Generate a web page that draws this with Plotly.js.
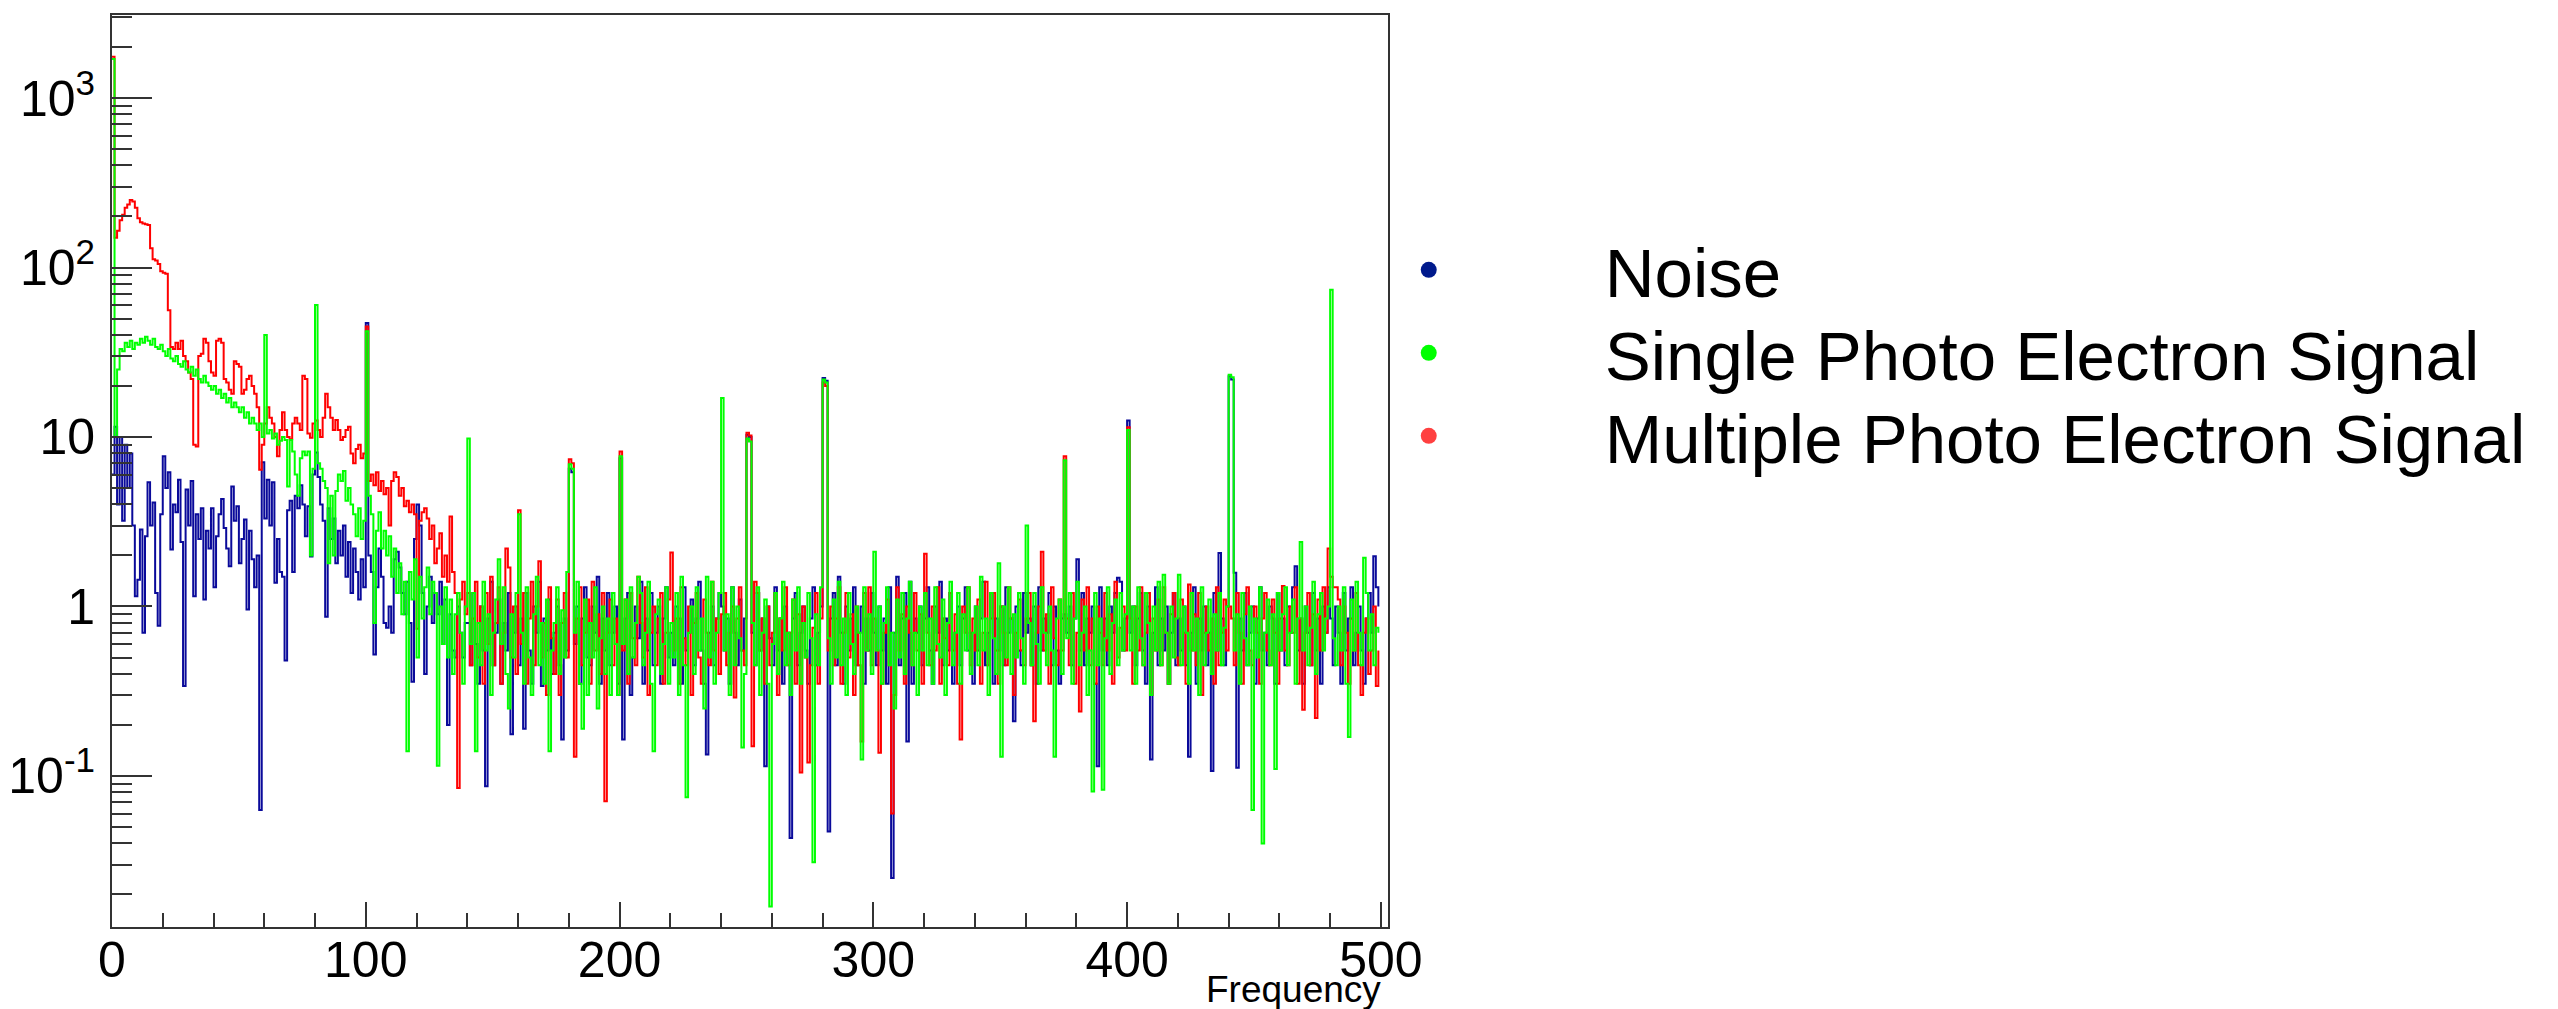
<!DOCTYPE html>
<html><head><meta charset="utf-8">
<script src="https://cdn.plot.ly/plotly-3.0.1.min.js"></script>
<style>html,body{margin:0;padding:0;background:#fff;}#chart{width:2558px;height:1009px;}</style>
</head><body><div id="chart"></div>
<script>
// Series names (legend)
const seriesNames = ['Noise', 'Single Photo Electron Signal', 'Multiple Photo Electron Signal'];
// Histogram binning along Frequency axis (1 unit per bin, starting at 0)
const binStart = 0;
const binWidth = 1;
// Axis tick labels
const xTickVals = [0, 100, 200, 300, 400, 500];
const xTickLabels = ['0', '100', '200', '300', '400', '500'];
const yTickVals = [0.1, 1, 10, 100, 1000];
const yTickLabels = ['10<sup>-1</sup>', '1', '10', '10<sup>2</sup>', '10<sup>3</sup>'];

// Noise (blue), bins 0..499
const noise = [
 6, 11.5, 4, 10, 3.2, 9, 5, 8, 3, 1.15, 1.44, 2.85, 0.7, 2.6, 5.4, 3.0, 4.1, 1.2, 0.77, 3.5,
 7.7, 5, 6.2, 2.17, 4, 3.6, 5.6, 2.4, 0.34, 4.9, 3, 5.5, 1.15, 3.5, 2.5, 3.8, 1.1, 2.8, 2.2, 3.8,
 1.3, 2.6, 3.5, 4.3, 2.9, 2.2, 1.73, 5.1, 3.2, 3.9, 1.8, 2.5, 3.26, 0.96, 2.8, 1.9, 1.3, 2.0, 0.063, 7.1,
 3.3, 5.6, 3.0, 5.4, 1.38, 2.5, 1.6, 1.5, 0.48, 3.7, 4.2, 1.6, 4.5, 3.8, 5.2, 4.0, 2.6, 3.9, 1.97, 6.0,
 8.1, 5.8, 4.0, 3.2, 0.87, 3.8, 2.5, 3.3, 1.8, 2.8, 2.0, 3.0, 1.5, 2.4, 1.2, 2.2, 1.6, 1.1, 1.9, 1.3,
 47, 2.0, 1.6, 0.52, 1.3, 2.2, 1.5, 0.8, 0.75, 1.0, 0.7, 1.9, 2.1, 1.7, 1.2, 0.9, 1.4, 0.8, 0.36, 2.5,
 4.0, 3.0, 1.2, 0.4, 1.0, 1.5, 0.8, 1.2, 0.9, 1.4, 0.6, 1.1, 0.2, 0.9, 0.55, 0.5, 1.0, 0.7, 0.5, 0.8,
 0.8, 0.45, 1.2, 0.6, 0.35, 1.0, 0.55, 0.087, 0.85, 1.4, 0.45, 0.7, 1.1, 0.35, 0.8, 0.55, 1.2, 0.176, 0.7, 1.0,
 0.45, 0.85, 0.19, 1.2, 0.55, 0.35, 1.0, 0.7, 1.4, 0.34, 0.85, 0.55, 1.1, 0.4, 0.7, 1.0, 0.45, 0.164, 0.85, 0.55,
 6.5, 6.2, 0.6, 1.0, 0.35, 0.85, 1.3, 0.5, 0.45, 1.0, 0.7, 1.5, 0.35, 0.85, 0.55, 1.2, 0.45, 0.7, 1.0, 0.35,
 7.5, 0.164, 0.85, 1.2, 0.3, 0.5, 1.0, 0.65, 1.4, 0.35, 0.85, 0.55, 1.2, 0.45, 0.7, 1.0, 0.35, 0.85, 1.3, 0.5,
 0.7, 0.45, 1.0, 0.85, 0.35, 1.3, 0.55, 0.7, 1.1, 0.45, 0.85, 1.4, 0.55, 0.35, 0.134, 0.7, 1.0, 0.45, 0.85, 1.2,
 1.0, 0.55, 0.85, 0.35, 1.3, 0.7, 0.45, 1.1, 0.55, 0.85, 10.3, 10.0, 0.7, 0.45, 1.2, 0.55, 0.85, 0.114, 1.0, 0.65,
 0.45, 1.3, 0.55, 0.85, 0.35, 1.0, 0.7, 0.043, 0.85, 1.2, 0.45, 0.7, 1.0, 0.55, 0.35, 0.85, 1.3, 0.45, 0.7, 1.0,
 22.3, 21.5, 0.047, 0.85, 1.2, 0.45, 1.5, 0.7, 0.35, 1.0, 0.55, 0.85, 1.3, 0.45, 0.7, 1.0, 0.35, 0.85, 0.55, 1.2,
 0.7, 0.45, 1.0, 0.55, 0.85, 0.35, 1.3, 0.025, 0.7, 1.5, 0.45, 0.85, 1.2, 0.16, 1.4, 0.35, 0.85, 0.7, 1.0, 0.45,
 0.85, 1.3, 0.55, 0.35, 1.0, 0.7, 1.4, 0.45, 0.85, 0.55, 1.2, 0.35, 0.7, 1.0, 0.45, 0.85, 1.3, 0.55, 0.7, 0.35,
 1.0, 0.55, 0.85, 1.4, 0.45, 0.7, 1.2, 0.35, 0.85, 0.55, 1.0, 0.45, 1.3, 0.7, 0.85, 0.21, 1.0, 0.55, 0.45, 1.2,
 0.7, 0.85, 0.45, 1.0, 0.35, 1.3, 0.55, 0.85, 0.7, 1.2, 0.45, 1.0, 0.55, 0.35, 0.85, 0.9, 0.7, 1.0, 0.45, 0.85,
 1.9, 0.55, 1.2, 0.45, 0.85, 0.7, 1.0, 0.35, 0.114, 1.3, 0.55, 0.85, 0.45, 1.0, 0.7, 1.2, 1.48, 1.4, 0.55, 0.85,
 12.5, 0.7, 1.0, 0.45, 0.85, 1.2, 0.55, 0.35, 1.0, 0.125, 0.7, 1.3, 0.45, 0.85, 0.55, 1.0, 0.35, 0.7, 1.2, 0.45,
 0.85, 0.55, 1.0, 0.45, 0.13, 0.7, 1.3, 0.35, 0.85, 0.55, 1.0, 0.45, 0.7, 0.107, 1.2, 0.55, 2.07, 0.85, 0.45, 1.0,
 22.8, 21.8, 1.58, 0.112, 0.85, 0.55, 1.2, 0.45, 0.7, 1.0, 0.35, 0.85, 1.3, 0.55, 0.7, 0.45, 1.0, 0.85, 0.35, 1.2,
 0.55, 0.85, 0.45, 1.0, 0.7, 1.3, 1.73, 0.55, 0.85, 0.35, 1.0, 0.7, 0.45, 1.2, 0.55, 0.85, 0.35, 1.0, 0.7, 1.3,
 0.85, 0.45, 1.0, 0.7, 0.35, 1.2, 0.55, 0.85, 1.3, 0.45, 0.7, 1.0, 0.55, 0.35, 0.85, 1.2, 0.7, 1.98, 1.3, 1.0
];

// Single Photo Electron Signal (green), bins 0..499
const singlePE = [
 1700, 10, 25, 33, 32, 36, 34, 37, 33, 36, 35, 38, 36, 39, 37, 35, 38, 34, 33, 35,
 32, 30, 33, 29, 28, 30, 27, 26, 28, 25, 24, 26, 23, 25, 22, 21, 23, 21, 20, 19,
 20, 18, 19, 17, 18, 16, 17, 15, 16, 15, 14, 15, 13, 14, 12, 13, 12, 11, 12, 10,
 40, 10.5, 11, 9.8, 10.5, 9, 9.5, 10, 9.6, 5.1, 9.6, 8.2, 6, 4.5, 7.5, 8.2, 7.8, 8.2, 2.0, 6.5,
 60, 7, 6.5, 5.5, 5, 1.8, 4.5, 2.0, 4.8, 6, 5.5, 6.3, 4.2, 5, 4, 3.5, 2.6, 3.8, 2.5, 3.2,
 42, 4.5, 3.5, 0.8, 2.8, 3.6, 2.2, 2.8, 2.0, 2.6, 1.5, 2.2, 1.2, 1.8, 0.9, 1.4, 0.14, 1.6, 1.1, 1.9,
 0.5, 1.5, 0.85, 1.3, 1.7, 0.9, 1.4, 1.2, 0.115, 1.0, 0.6, 1.3, 0.5, 1.1, 0.4, 0.9, 1.2, 0.7, 0.35, 1.0,
 9.8, 0.6, 1.2, 0.14, 0.8, 0.45, 1.4, 0.55, 0.9, 0.3, 0.7, 1.1, 1.9, 0.6, 1.3, 0.4, 0.25, 0.9, 0.5, 1.2,
 3.5, 0.7, 0.35, 1.3, 0.5, 0.3, 0.9, 1.5, 0.45, 0.8, 0.35, 1.1, 0.14, 0.55, 0.8, 1.3, 0.4, 0.95, 0.5, 1.6,
 6.9, 6.5, 0.7, 1.4, 0.35, 0.19, 1.1, 0.3, 0.8, 0.5, 1.3, 0.25, 0.65, 1.0, 0.4, 0.85, 0.3, 1.2, 0.6, 0.3,
 7.7, 0.6, 1.1, 0.4, 1.3, 0.5, 0.8, 1.5, 1.2, 0.45, 0.7, 1.4, 0.35, 0.14, 0.9, 1.1, 0.4, 0.6, 1.3, 0.35,
 0.8, 0.5, 1.2, 0.3, 1.5, 0.45, 0.075, 0.7, 1.0, 0.4, 1.3, 0.55, 0.85, 0.25, 1.5, 0.5, 1.4, 0.35, 0.7, 1.2,
 17, 0.55, 0.9, 0.3, 1.3, 0.45, 1.0, 0.65, 0.147, 0.4, 9.8, 9.4, 0.8, 0.45, 1.3, 0.3, 0.7, 1.1, 0.35, 0.017,
 0.6, 1.2, 0.4, 0.85, 1.4, 0.45, 0.7, 0.3, 1.1, 0.55, 1.3, 0.35, 0.8, 0.5, 1.2, 0.65, 0.031, 0.9, 0.45, 1.3,
 21.8, 21, 0.65, 0.35, 1.1, 0.5, 1.4, 0.45, 0.85, 0.3, 1.2, 0.6, 0.4, 1.0, 0.7, 0.125, 1.3, 0.55, 0.9, 0.4,
 2.1, 0.55, 1.0, 0.35, 0.8, 1.3, 0.45, 0.7, 0.25, 1.1, 0.5, 1.2, 0.4, 0.85, 1.4, 0.45, 0.7, 0.3, 1.0, 0.55,
 1.2, 0.45, 0.85, 0.35, 1.3, 0.6, 0.5, 1.1, 0.3, 0.8, 1.4, 0.45, 0.7, 1.2, 0.35, 0.9, 0.55, 1.3, 0.4, 0.7,
 1.0, 0.45, 1.5, 0.55, 0.85, 0.3, 1.2, 0.65, 0.4, 1.8, 0.13, 1.0, 0.5, 1.3, 0.4, 0.9, 0.5, 1.2, 0.65, 0.35,
 3.0, 0.8, 0.45, 1.2, 0.6, 0.35, 1.3, 0.7, 0.45, 1.0, 0.55, 0.13, 0.85, 1.1, 0.4, 7.3, 0.65, 1.2, 0.35, 0.85,
 1.4, 0.45, 0.7, 1.0, 0.3, 0.55, 0.081, 1.2, 0.45, 0.85, 0.083, 0.65, 1.3, 0.4, 0.8, 1.1, 0.45, 1.2, 0.55, 0.9,
 11, 0.55, 1.0, 0.35, 1.3, 0.65, 0.45, 1.2, 0.8, 0.3, 1.0, 0.55, 1.4, 0.45, 1.54, 0.7, 0.35, 1.0, 0.5, 0.85,
 1.54, 0.45, 1.0, 0.7, 0.35, 1.2, 0.55, 0.85, 0.3, 1.3, 0.45, 0.7, 1.1, 0.4, 0.9, 0.55, 1.2, 0.45, 0.75, 1.0,
 23.3, 22.5, 0.55, 0.9, 0.35, 1.2, 0.65, 0.45, 1.0, 0.063, 0.85, 0.5, 1.3, 0.04, 0.7, 1.1, 0.45, 0.9, 0.11, 1.2,
 0.55, 0.9, 1.3, 0.45, 0.7, 1.1, 0.35, 0.85, 2.4, 0.55, 1.0, 0.45, 0.75, 1.4, 0.4, 0.9, 1.2, 0.55, 0.85, 1.0,
 74, 0.65, 0.45, 1.0, 0.55, 1.3, 0.35, 0.17, 1.1, 0.55, 1.4, 0.7, 0.45, 1.94, 1.2, 0.55, 0.9, 0.45, 0.75, 0.7
];

// Multiple Photo Electron Signal (red), bins 0..499
const multiPE = [
 1750, 150, 165, 190, 205, 225, 235, 250, 245, 225, 195, 185, 182, 180, 178, 130, 112, 110, 105, 95,
 93, 92, 56, 34, 33, 36, 33, 37, 30, 28, 24, 22, 9, 8.8, 30, 31, 38, 36, 28, 24,
 23, 37, 38, 36, 22, 21, 19, 18, 28, 27, 26, 18, 19, 22, 23, 20, 18, 15, 6.4, 9,
 12, 15, 13, 12, 10, 7.7, 11, 14, 11, 10, 9.7, 12, 13, 12, 11, 23, 22, 10.5, 9.9, 12,
 12.5, 11, 10, 13, 18, 15, 13, 11, 12.6, 11, 9.6, 10, 11, 11.5, 8, 7, 8.5, 9, 7.5, 8,
 44.8, 5.5, 6, 5.2, 6.2, 4.8, 5.5, 4.6, 5.0, 3.0, 5.5, 6.2, 5.8, 4.5, 5.0, 3.9, 4.2, 3.6, 4.0, 3.5,
 0.74, 3.2, 3.6, 3.8, 3.3, 2.5, 3.0, 1.8, 2.2, 2.7, 1.5, 2.0, 1.4, 3.4, 1.6, 1.2, 0.085, 1.1, 1.4, 0.9,
 1.2, 0.45, 0.85, 1.4, 0.5, 1.0, 0.35, 1.2, 0.6, 1.5, 0.45, 0.8, 1.3, 0.35, 0.7, 2.2, 1.7, 0.5, 1.0, 0.4,
 3.7, 0.6, 1.2, 0.35, 0.85, 1.4, 0.45, 1.0, 1.85, 0.5, 0.8, 0.3, 1.3, 0.65, 0.4, 1.1, 0.3, 0.8, 1.2, 0.5,
 7.4, 7.0, 0.13, 0.85, 1.3, 0.45, 0.7, 1.1, 0.35, 1.4, 0.55, 0.9, 0.4, 1.2, 0.071, 0.7, 1.1, 0.45, 0.85, 0.3,
 8.2, 0.55, 1.1, 0.35, 1.2, 0.65, 0.45, 1.5, 0.8, 0.5, 1.3, 0.3, 0.7, 1.0, 0.45, 0.85, 1.2, 0.35, 0.7, 1.1,
 2.08, 0.55, 0.85, 0.35, 1.3, 0.65, 0.45, 1.0, 0.3, 0.8, 1.2, 0.5, 0.35, 1.1, 0.7, 0.45, 1.4, 0.55, 0.85, 0.4,
 0.9, 1.2, 0.45, 0.7, 1.0, 0.29, 0.85, 1.3, 0.55, 0.45, 10.6, 10.2, 0.15, 1.4, 1.2, 0.55, 0.85, 0.35, 1.0, 0.45,
 0.7, 1.2, 0.3, 0.85, 0.55, 1.3, 0.45, 0.7, 1.1, 0.35, 0.9, 0.105, 1.0, 0.5, 0.12, 0.45, 0.75, 1.2, 0.35, 0.85,
 21, 20, 0.55, 1.0, 0.45, 0.85, 1.3, 0.35, 0.7, 1.2, 0.5, 0.9, 0.3, 1.0, 0.45, 0.16, 1.2, 0.55, 1.3, 0.45,
 0.85, 0.55, 0.137, 0.35, 0.7, 1.1, 0.45, 0.06, 0.3, 1.3, 0.55, 0.9, 0.35, 1.0, 0.7, 0.45, 1.2, 0.55, 0.9, 0.35,
 2.05, 0.7, 0.45, 1.0, 0.55, 1.3, 0.35, 0.85, 0.65, 0.45, 1.2, 0.55, 0.9, 0.35, 0.164, 1.0, 0.7, 1.3, 0.45, 0.85,
 0.55, 1.1, 0.35, 0.7, 1.4, 0.45, 0.85, 1.2, 0.55, 0.35, 1.0, 0.7, 0.45, 1.3, 0.85, 0.3, 0.7, 1.1, 0.55, 0.45,
 0.85, 1.2, 0.45, 0.21, 0.7, 1.0, 2.1, 0.55, 0.9, 0.35, 1.3, 0.65, 0.45, 1.1, 0.55, 7.7, 0.85, 0.45, 1.2, 0.35,
 0.7, 0.24, 1.1, 0.55, 1.3, 0.45, 0.85, 0.35, 1.0, 0.7, 0.45, 1.2, 0.55, 0.9, 0.35, 1.4, 0.5, 0.75, 1.0, 0.55,
 11.4, 0.85, 0.35, 1.0, 0.55, 1.3, 0.45, 0.7, 1.2, 0.3, 0.85, 0.55, 1.1, 0.45, 1.3, 0.7, 0.35, 0.9, 1.2, 0.5,
 0.45, 1.1, 0.7, 0.35, 1.35, 0.55, 0.9, 0.45, 1.2, 0.3, 0.7, 1.0, 0.55, 0.85, 0.35, 1.3, 0.45, 0.7, 1.1, 0.55,
 1.0, 0.85, 0.45, 1.2, 0.7, 0.35, 0.9, 1.3, 0.55, 0.45, 1.0, 0.7, 0.35, 0.85, 1.2, 0.55, 0.45, 1.1, 0.7, 0.35,
 0.85, 1.32, 0.55, 0.45, 1.0, 0.7, 1.3, 0.35, 0.85, 0.246, 0.7, 1.2, 0.45, 0.9, 0.22, 1.1, 0.55, 1.3, 0.7, 2.2,
 1.5, 1.3, 1.3, 1.1, 0.45, 1.0, 0.7, 0.35, 0.85, 0.55, 1.2, 0.45, 0.3, 0.7, 0.85, 0.4, 0.55, 1.0, 0.34, 0.55
];

const lineColors = { noise: '#0a0a9a', singlePE: '#00ff00', multiPE: '#ff0000' };
const dotColors = { noise: '#001a8c', singlePE: '#00ff00', multiPE: '#ff4040' };

function stepTrace(values, color) {
  return {
    type: 'scatter', mode: 'lines',
    x0: binStart, dx: binWidth, y: values,
    line: { color: color, width: 2, shape: 'hv' },
    showlegend: false, hoverinfo: 'skip'
  };
}
function legendTrace(name, color, legendId) {
  return {
    type: 'scatter', mode: 'markers', x: [null], y: [null],
    name: name, legend: legendId,
    marker: { color: color, size: 19 },
    showlegend: true, hoverinfo: 'skip'
  };
}

const data = [
  stepTrace(noise, lineColors.noise),
  stepTrace(multiPE, lineColors.multiPE),
  stepTrace(singlePE, lineColors.singlePE),
  legendTrace(seriesNames[0], dotColors.noise, 'legend'),
  legendTrace(seriesNames[1], dotColors.singlePE, 'legend2'),
  legendTrace(seriesNames[2], dotColors.multiPE, 'legend3')
];

const axisColor = '#333333';
const legendBase = {
  x: 0.894, xanchor: 'left', yanchor: 'middle',
  font: { size: 69, color: '#000', family: 'Liberation Sans, Arial, sans-serif' },
  itemwidth: 342, bgcolor: 'rgba(0,0,0,0)', borderwidth: 0, itemsizing: 'trace'
};

const layout = {
  width: 2558, height: 1009,
  margin: { l: 112, r: 1170, t: 15, b: 82, autoexpand: false },
  paper_bgcolor: '#ffffff', plot_bgcolor: '#ffffff',
  font: { family: 'Liberation Sans, Arial, sans-serif', color: '#000' },
  showlegend: true,
  xaxis: {
    range: [0, 502.8], showgrid: false, zeroline: false,
    showline: true, linecolor: axisColor, linewidth: 2, mirror: true,
    ticks: 'inside', ticklen: 25, tickwidth: 2, tickcolor: axisColor,
    tickmode: 'array', tickvals: xTickVals, ticktext: xTickLabels,
    tickfont: { size: 50, color: '#000' }, ticklabelstandoff: -12,
    minor: { ticks: 'inside', ticklen: 14, tickwidth: 2, tickcolor: axisColor, dtick: 20, tick0: 0 }
  },
  yaxis: {
    type: 'log', range: [-1.891, 3.4897], showgrid: false, zeroline: false,
    showline: true, linecolor: axisColor, linewidth: 2, mirror: true,
    ticks: 'inside', ticklen: 40, tickwidth: 2, tickcolor: axisColor,
    tickmode: 'array', tickvals: yTickVals, ticktext: yTickLabels,
    tickfont: { size: 50, color: '#000' }, ticklabelstandoff: 5,
    minor: { ticks: 'inside', ticklen: 20, tickwidth: 2, tickcolor: axisColor, dtick: 'D1' }
  },
  legend: Object.assign({}, legendBase, { y: 0.7204 }),
  legend2: Object.assign({}, legendBase, { y: 0.6294 }),
  legend3: Object.assign({}, legendBase, { y: 0.5384 }),
  annotations: [{
    text: 'Frequency', xref: 'paper', yref: 'paper', x: 0.9961, y: -0.069,
    xanchor: 'right', yanchor: 'middle', showarrow: false,
    font: { size: 37, color: '#000' }
  }]
};

Plotly.newPlot('chart', data, layout, { staticPlot: true, displayModeBar: false });
</script>
</body></html>
